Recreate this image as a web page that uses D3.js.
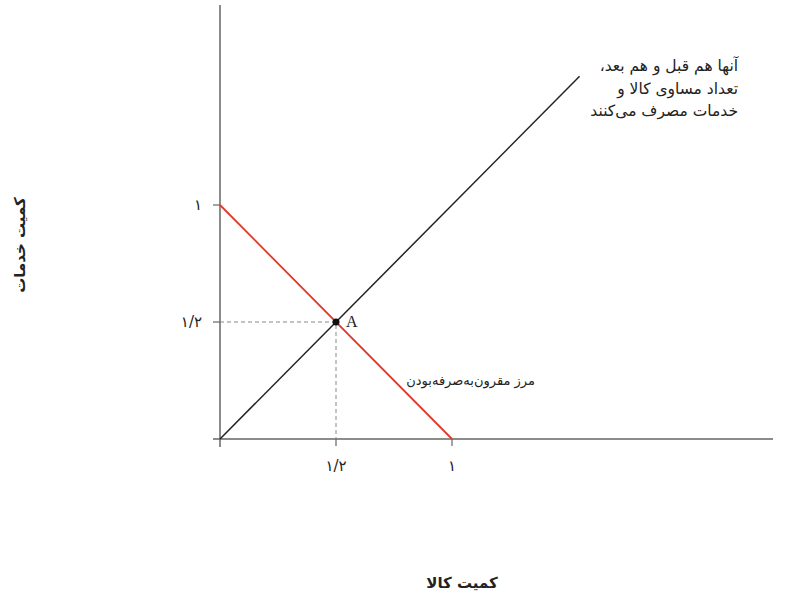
<!DOCTYPE html>
<html>
<head>
<meta charset="utf-8">
<script src="https://cdn.jsdelivr.net/npm/d3@7"></script>
<style>
  body { margin: 0; background: #fff; }
  text { font-family: "DejaVu Sans", sans-serif; fill: #222; }
</style>
</head>
<body>
<script>
// data
const xTicks = [0.5, 1];
const xTickLabels = ["۱/۲", "۱"];
const yTicks = [0.5, 1];
const yTickLabels = ["۱/۲", "۱"];
const frontier = [[0, 1], [1, 0]];       // مرز مقرون‌به‌صرفه‌بودن
const equalLine = [[0, 0], [1.55, 1.55]]; // equal goods & services
const pointA = [0.5, 0.5];
const noteLines = ["آنها هم قبل و هم بعد،", "تعداد مساوی کالا و", "خدمات مصرف می‌کنند"];
const frontierLabel = "مرز مقرون‌به‌صرفه‌بودن";
const xTitle = "کمیت کالا";
const yTitle = "کمیت خدمات";

const width = 810, height = 606;

const x = d3.scaleLinear().domain([0, 1]).range([220, 452]);
const y = d3.scaleLinear().domain([0, 1]).range([439, 205]);

const svg = d3.select("body").append("svg")
    .attr("width", width)
    .attr("height", height);

// axes lines
svg.append("line")
    .attr("x1", x(0) - 7).attr("x2", 773)
    .attr("y1", y(0)).attr("y2", y(0))
    .attr("stroke", "#666").attr("stroke-width", 1.5);
svg.append("line")
    .attr("x1", x(0)).attr("x2", x(0))
    .attr("y1", 5).attr("y2", y(0) + 8)
    .attr("stroke", "#666").attr("stroke-width", 1.5);

// ticks
svg.selectAll(".xtick")
    .data(xTicks)
    .join("line")
    .attr("x1", d => x(d)).attr("x2", d => x(d))
    .attr("y1", y(0)).attr("y2", y(0) + 7)
    .attr("stroke", "#666").attr("stroke-width", 1.2);
svg.selectAll(".ytick")
    .data(yTicks)
    .join("line")
    .attr("x1", x(0) - 7).attr("x2", x(0))
    .attr("y1", d => y(d)).attr("y2", d => y(d))
    .attr("stroke", "#666").attr("stroke-width", 1.2);

svg.selectAll(".xlab")
    .data(xTicks)
    .join("text")
    .attr("x", d => x(d))
    .attr("y", y(0) + 32)
    .attr("text-anchor", "middle")
    .attr("font-size", 15)
    .text((d, i) => xTickLabels[i]);
svg.selectAll(".ylab")
    .data(yTicks)
    .join("text")
    .attr("x", x(0) - 18)
    .attr("y", d => y(d) + 5)
    .attr("text-anchor", "end")
    .attr("font-size", 15)
    .text((d, i) => yTickLabels[i]);

// dashed guides to A
svg.append("path")
    .attr("d", `M${x(0)},${y(pointA[1])}H${x(pointA[0])}V${y(0)}`)
    .attr("fill", "none")
    .attr("stroke", "#888")
    .attr("stroke-width", 1)
    .attr("stroke-dasharray", "4,3");

const line = d3.line().x(d => x(d[0])).y(d => y(d[1]));

svg.append("path")
    .attr("d", line(equalLine))
    .attr("fill", "none")
    .attr("stroke", "#222")
    .attr("stroke-width", 1.5);

svg.append("path")
    .attr("d", line(frontier))
    .attr("fill", "none")
    .attr("stroke", "#e0392b")
    .attr("stroke-width", 1.8);

svg.append("circle")
    .attr("cx", x(pointA[0])).attr("cy", y(pointA[1]))
    .attr("r", 3.5).attr("fill", "#111");
svg.append("text")
    .attr("x", x(pointA[0]) + 10).attr("y", y(pointA[1]) + 5)
    .style("font-family", "'Liberation Serif', serif")
    .attr("font-size", 16)
    .text("A");

// note
svg.append("g").selectAll("text")
    .data(noteLines)
    .join("text")
    .attr("x", 738)
    .attr("y", (d, i) => 71 + i * 22.5)
    .attr("direction", "rtl")
    .attr("text-anchor", "start")
    .attr("font-size", 15.5)
    .text(d => d);

svg.append("text")
    .attr("x", 535).attr("y", 385)
    .attr("direction", "rtl")
    .attr("text-anchor", "start")
    .attr("font-size", 13)
    .text(frontierLabel);

// axis titles
svg.append("text")
    .attr("x", 462).attr("y", 588)
    .attr("text-anchor", "middle")
    .attr("font-size", 15)
    .attr("font-weight", "bold")
    .text(xTitle);

svg.append("text")
    .attr("transform", "translate(25,245) rotate(-90)")
    .attr("text-anchor", "middle")
    .attr("font-size", 15)
    .attr("font-weight", "bold")
    .text(yTitle);
</script>
</body>
</html>
